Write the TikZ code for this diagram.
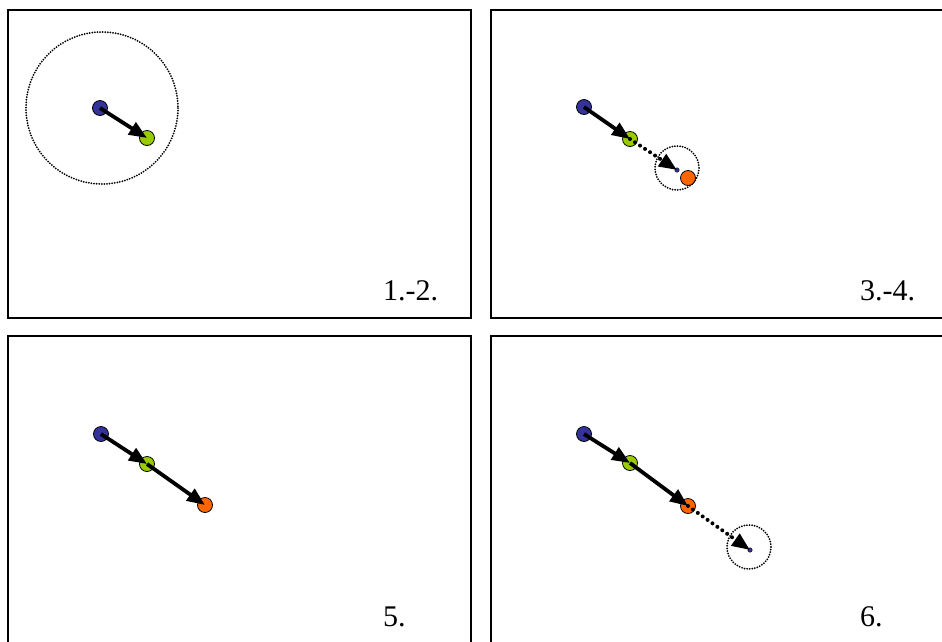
\documentclass[tikz,border=0pt]{standalone}
\usepackage{fontspec}
\setmainfont{Liberation Serif}
\usetikzlibrary{arrows.meta}
\definecolor{dotblue}{HTML}{333399}
\definecolor{dotgreen}{HTML}{99CC00}
\definecolor{dotorange}{HTML}{FF6600}

\begin{document}
\begin{tikzpicture}[x=1pt,y=-1pt,>={Triangle[length=18pt,width=14pt]},
  dot/.style={circle,draw=black,line width=0.8pt,minimum size=15pt,inner sep=0pt},
  tiny/.style={circle,draw=black,fill=dotblue,line width=0.4pt,minimum size=4.5pt,inner sep=0pt},
  move/.style={->,line width=3.8pt},
  guess/.style={->,line width=4pt,line cap=round,dash pattern=on 0pt off 6pt},
  reach/.style={line width=2pt,line cap=round,dash pattern=on 0pt off 2.6pt},
  frame/.style={line width=2pt},
  tag/.style={anchor=base west,inner sep=0pt,font=\fontsize{30}{32}\selectfont}]
\useasboundingbox (0,0) rectangle (942,641);
% panel frames
\draw[frame] (8,10) rectangle (471,318);
\draw[frame] (950,10) -- (491,10) -- (491,318) -- (950,318);
\draw[frame] (471,650) -- (471,336) -- (8,336) -- (8,650);
\draw[frame] (950,336) -- (491,336) -- (491,650);

% 1.-2.
\draw[reach] (102,108) circle (76);
\node[dot,fill=dotblue] (b1) at (100,108) {};
\node[dot,fill=dotgreen] (g1) at (147,138) {};
\draw[move] (b1.center) -- (g1.center);
\node[tag] (l1) at (383,300) {1.-2.};

% 3.-4.
\draw[reach] (677,168) circle (22);
\node[dot,fill=dotblue] (b2) at (584,107) {};
\node[dot,fill=dotgreen] (g2) at (630,139) {};
\node[dot,fill=dotorange] (o2) at (688,178) {};
\node[tiny] (t2) at (677,170) {};
\draw[move] (b2.center) -- (g2.center);
\draw[guess] (g2.center) -- (t2.center);
\node[tag] (l2) at (860,300) {3.-4.};

% 5.
\node[dot,fill=dotblue] (b3) at (101,434) {};
\node[dot,fill=dotgreen] (g3) at (147,464) {};
\node[dot,fill=dotorange] (o3) at (205,505) {};
\draw[move] (b3.center) -- (g3.center);
\draw[move] (g3.center) -- (o3.center);
\node[tag] (l3) at (383,626) {5.};

% 6.
\draw[reach] (749,547) circle (22);
\node[dot,fill=dotblue] (b4) at (584,434) {};
\node[dot,fill=dotgreen] (g4) at (630,463) {};
\node[dot,fill=dotorange] (o4) at (688,506) {};
\node[tiny] (t4) at (750,550) {};
\draw[move] (b4.center) -- (g4.center);
\draw[move] (g4.center) -- (o4.center);
\draw[guess] (o4.center) -- (t4.center);
\node[tag] (l4) at (860,626) {6.};
\end{tikzpicture}
\end{document}
